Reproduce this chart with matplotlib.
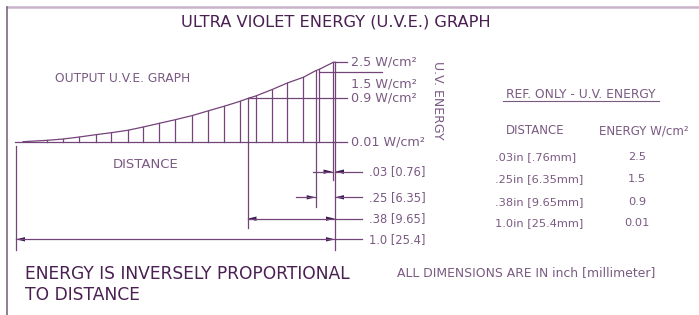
import matplotlib.pyplot as plt
import numpy as np

# drawing units = pixels of the 699x315 sheet (y grows downward)
curve_x = [23, 47.3, 63.3, 79.3, 95.7, 111.3, 127.7, 143.3, 159.3, 175.3, 191.7,
           207.7, 224, 240, 248.3, 255.7, 271.7, 287.3, 303.3, 315.7, 319.3, 333.3, 335.3]
curve_y = [141.7, 140.3, 139, 137, 134.7, 132.7, 130.3, 127, 123.3, 119.7, 115.7,
           111, 106.3, 101.3, 98.3, 96, 89.7, 83, 77.3, 70.7, 69.3, 62.3, 62.3]
baseline_y = 142.3

# energy levels drawn at the right of the curve
energy_labels = ["2.5 W/cm²", "1.5 W/cm²", "0.9 W/cm²", "0.01 W/cm²"]
energy_label_y = [62, 84, 98, 142]
level_lines = [(335.3, 347, 62.3), (319.3, 382, 71.7), (248.3, 347, 98.3), (15, 347, 142.3)]

# dimension rows: label, row y
dim_labels = [".03 [0.76]", ".25 [6.35]", ".38 [9.65]", "1.0 [25.4]"]
dim_y = [171.7, 197.3, 218.7, 239.3]
ext_lines = [(16, 146, 250), (247.5, 142, 228), (315.7, 142, 206.7),
             (332.5, 142, 180), (335.0, 142, 250)]

# reference table
table_dist = [".03in [.76mm]", ".25in [6.35mm]", ".38in [9.65mm]", "1.0in [25.4mm]"]
table_energy = ["2.5", "1.5", "0.9", "0.01"]
table_y = [156.7, 179, 201.7, 223.3]

line_c = '#74437a'
arrow_c = '#3b1b52'
text_dark = '#4a2052'
text_light = '#7a5a82'
font = 'DejaVu Sans'

fig = plt.figure(figsize=(6.99, 3.15), dpi=100)
ax = fig.add_axes([0, 0, 1, 1])
ax.set_xlim(0, 699)
ax.set_ylim(315, 0)
ax.axis('off')

# sheet border
ax.plot([7.3, 699], [7.3, 7.3], color='#c9b2c9', lw=1.8)
ax.plot([7.3, 7.3], [7.3, 315], color='#7a6a7c', lw=1.2)

# curve and hatch lines
ax.plot(curve_x, curve_y, color=line_c, lw=0.9)
for x, y in zip(curve_x[1:], curve_y[1:]):
    ax.plot([x, x], [y, baseline_y], color=line_c, lw=0.9)

for x0, x1, y in level_lines:
    ax.plot([x0, x1], [y, y], color=line_c, lw=0.9)
for x, y0, y1 in ext_lines:
    ax.plot([x, x], [y0, y1], color=line_c, lw=0.9)


def arrow(x_tip, y, direction):
    # direction +1 points right, -1 points left
    L, W = 9, 2.2
    ax.fill([x_tip, x_tip - direction * L, x_tip - direction * L],
            [y, y - W, y + W], color=arrow_c, lw=0)


# .03 : arrows from outside
ax.plot([313.3, 332.5], [dim_y[0]] * 2, color=line_c, lw=0.9)
ax.plot([335.0, 362], [dim_y[0]] * 2, color=line_c, lw=0.9)
arrow(332.5, dim_y[0], 1)
arrow(335.0, dim_y[0], -1)
# .25 : arrows from outside
ax.plot([296, 315.7], [dim_y[1]] * 2, color=line_c, lw=0.9)
ax.plot([335.0, 362], [dim_y[1]] * 2, color=line_c, lw=0.9)
arrow(315.7, dim_y[1], 1)
arrow(335.0, dim_y[1], -1)
# .38
ax.plot([247.5, 362], [dim_y[2]] * 2, color=line_c, lw=0.9)
arrow(247.5, dim_y[2], -1)
arrow(335.0, dim_y[2], 1)
# 1.0
ax.plot([16, 362], [dim_y[3]] * 2, color=line_c, lw=0.9)
arrow(16, dim_y[3], -1)
arrow(335.0, dim_y[3], 1)

# texts
ax.text(336, 22, "ULTRA VIOLET ENERGY (U.V.E.) GRAPH", color=text_dark, fontsize=11.7,
        ha='center', va='center', family=font)
ax.text(55, 79, "OUTPUT U.V.E. GRAPH", color=text_light, fontsize=8.8,
        ha='left', va='center', family=font)
ax.text(146, 164, "DISTANCE", color=text_light, fontsize=9.5,
        ha='center', va='center', family=font)
for lab, y in zip(energy_labels, energy_label_y):
    ax.text(351, y, lab, color=text_light, fontsize=9.2, ha='left', va='center', family=font)
for lab, y in zip(dim_labels, dim_y):
    ax.text(369, y, lab, color=text_light, fontsize=8.3, ha='left', va='center', family=font)
ax.text(437, 100, "U.V. ENERGY", color=text_light, fontsize=9, rotation=-90,
        ha='center', va='center', family=font)

ax.text(581, 95, "REF. ONLY - U.V. ENERGY", color=text_light, fontsize=8.8,
        ha='center', va='center', family=font)
ax.plot([503, 659], [100.5, 100.5], color=text_light, lw=0.8)
ax.text(535, 131, "DISTANCE", color=text_light, fontsize=8.5, ha='center', va='center', family=font)
ax.text(644, 131, "ENERGY W/cm²", color=text_light, fontsize=8.6, ha='center', va='center', family=font)
for d, e, y in zip(table_dist, table_energy, table_y):
    ax.text(495, y, d, color=text_light, fontsize=8.2, ha='left', va='center', family=font)
    ax.text(637, y, e, color=text_light, fontsize=8.2, ha='center', va='center', family=font)

ax.text(25, 274, "ENERGY IS INVERSELY PROPORTIONAL", color=text_dark, fontsize=12.3,
        ha='left', va='center', family=font)
ax.text(25, 295, "TO DISTANCE", color=text_dark, fontsize=12.3,
        ha='left', va='center', family=font)
ax.text(397, 273, "ALL DIMENSIONS ARE IN inch [millimeter]", color=text_light, fontsize=8.9,
        ha='left', va='center', family=font)

fig.savefig('out.png', dpi=100)
